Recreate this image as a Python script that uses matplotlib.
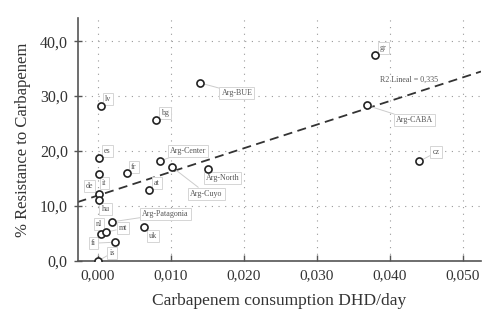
import numpy as np
import matplotlib.pyplot as plt
from matplotlib.ticker import FuncFormatter

# data
labels = ["lv", "bg", "Arg-BUE", "es", "Arg-Center", "it", "fr", "Arg-Cuyo",
          "Arg-North", "at", "de", "hu", "Arg-Patagonia", "uk", "nl", "mt",
          "fi", "is", "gr", "Arg-CABA", "cz"]
consumption = [0.0004, 0.0080, 0.0140, 0.0001, 0.00855, 0.0001, 0.0040, 0.0101,
               0.01505, 0.0070, 0.0001, 0.0001, 0.0019, 0.0063, 0.0004, 0.0011,
               0.0023, 0.00004, 0.0380, 0.0369, 0.0440]
resistance = [28.2, 25.6, 32.4, 18.7, 18.2, 15.8, 16.0, 17.15,
              16.7, 12.9, 12.2, 11.1, 7.1, 6.2, 4.85, 5.2,
              3.4, 0.0, 37.5, 28.3, 18.1]
fit_intercept = 11.9
fit_slope = 430.0
r2_text = "R2 Lineal = 0,335"

# label offsets in pixels (dx right, dy down) from each point
label_offsets = [(7, -7), (9, -7), (37, 10), (9, -7), (28, -10), (6, 9), (7, -6),
                 (35, 27), (15, 9), (8, -7), (-9, -8), (7, 9), (54, -8), (9, 9),
                 (-2, -10), (17, -4), (-21, 1), (14, -8), (8, -7), (47, 15), (17, -9)]

plt.rcParams['font.family'] = ['Liberation Serif', 'DejaVu Serif']

fig = plt.figure(figsize=(5, 3.29), dpi=100)
ax = fig.add_axes([0.155, 0.207, 0.807, 0.738])

xlim = (-0.00278, 0.0525)
ax.set_xlim(*xlim)
ax.set_ylim(0, 44.2)

xs = np.array(xlim)
ax.plot(xs, fit_intercept + fit_slope * xs, color='#333333', lw=1.3,
        dashes=(5, 3), zorder=2)

for lab, x, y, (dx, dy) in zip(labels, consumption, resistance, label_offsets):
    ax.annotate(lab, (x, y), xytext=(dx * 0.72, -dy * 0.72), textcoords='offset points',
                ha='center', va='center', fontsize=5.8, color='#555555',
                bbox=dict(boxstyle='square,pad=0.25', fc='white', ec='#d5d5d5', lw=0.7),
                arrowprops=dict(arrowstyle='-', color='#cccccc', lw=0.7,
                                shrinkA=0, shrinkB=3),
                zorder=3)

ax.scatter(consumption, resistance, s=26, facecolors='white', edgecolors='#222222',
           linewidths=1.2, zorder=4)

ax.text(0.0427, 32.9, r2_text, fontsize=5.8, color='#555555', ha='center', va='center')

ax.set_xticks(np.arange(0, 0.051, 0.01))
ax.set_yticks(np.arange(0, 41, 10))
ax.xaxis.set_major_formatter(FuncFormatter(lambda v, p: f"{v:.3f}".replace('.', ',')))
ax.yaxis.set_major_formatter(FuncFormatter(lambda v, p: f"{v:.1f}".replace('.', ',')))
ax.tick_params(axis='x', direction='in', length=4, width=1, color='#555555',
               labelsize=11, pad=6, labelcolor='#333333')
ax.tick_params(axis='y', direction='inout', length=6, width=1, color='#555555',
               labelsize=11.5, pad=4, labelcolor='#333333')

ax.grid(True, color='#999999', lw=0.8, linestyle=(0, (1, 5)))
ax.set_axisbelow(True)
for side in ['top', 'right']:
    ax.spines[side].set_visible(False)
for side in ['left', 'bottom']:
    ax.spines[side].set_color('#555555')
    ax.spines[side].set_linewidth(1.2)

ax.set_xlabel("Carbapenem consumption DHD/day", fontsize=12.5, color='#333333', labelpad=8)
ax.set_ylabel("% Resistance to Carbapenem", fontsize=12, color='#333333', labelpad=6)

fig.savefig("out.png", dpi=100)
